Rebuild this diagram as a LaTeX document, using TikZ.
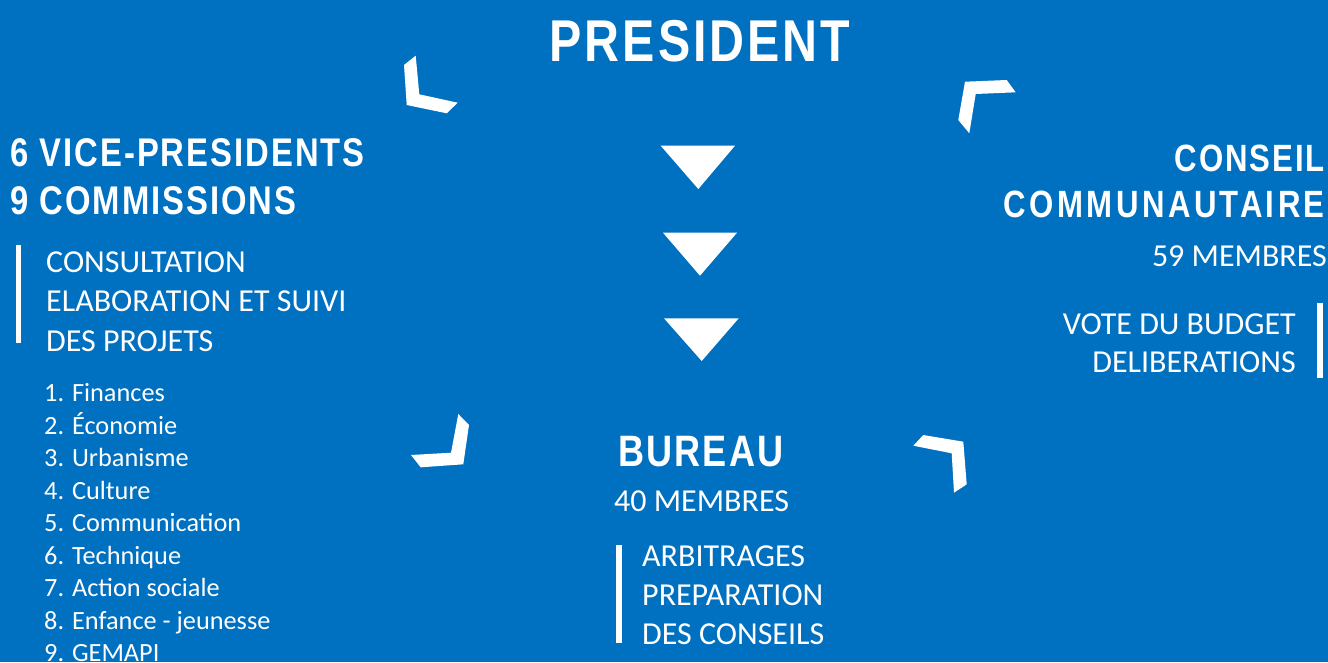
\documentclass[tikz,border=0pt]{standalone}
\usepackage{fontspec}
\setmainfont{Carlito}
\newfontfamily\headfont[FakeStretch=0.82,LetterSpace=5]{Liberation Sans}
\newfontfamily\headfontwide[FakeStretch=0.82,LetterSpace=9]{Liberation Sans}
\definecolor{bgblue}{RGB}{0,112,192}
\tikzset{
  txt/.style={inner sep=0pt, text=white},
  head/.style={txt, font=\headfont\bfseries\fontsize{#1}{#1}\selectfont},
  headwide/.style={txt, font=\headfontwide\bfseries\fontsize{#1}{#1}\selectfont},
  body/.style={txt, font=\fontsize{32}{39}\selectfont},
  item/.style={txt, font=\fontsize{26.3}{32}\selectfont, anchor=base west},
  whiteshape/.style={fill=white},
}
\begin{document}
\begin{tikzpicture}[x=1pt,y=-1pt]
\fill[bgblue] (0,0) rectangle (1328,662);
\useasboundingbox (0,0) rectangle (1328,662);

% headings
\node[head=59, anchor=base] (pres) at (700,61.7) {PRESIDENT};
\node[head=40, anchor=base west] (vp1) at (10,166) {6 VICE-PRESIDENTS};
\node[head=40, anchor=base west] (vp2) at (10,214) {9 COMMISSIONS};
\node[head=38, anchor=base east] (cc1) at (1325,171.5) {CONSEIL};
\node[headwide=38, anchor=base east] (cc2) at (1325,217) {COMMUNAUTAIRE};
\node[head=44, anchor=base west] (bur) at (618,466) {BUREAU};

% left block
\fill[whiteshape] (16,245) rectangle (21,343);
\node[body, anchor=base west] (lb1) at (46,272) {CONSULTATION};
\node[body, anchor=base west] (lb2) at (46,311.5) {ELABORATION ET SUIVI};
\node[body, anchor=base west] (lb3) at (46,351) {DES PROJETS};

% list
\node[item] (i1) at (44,401.7) {1. Finances};
\node[item] (i2) at (44,434.3) {2. Économie};
\node[item] (i3) at (44,466.7) {3. Urbanisme};
\node[item] (i4) at (44,499) {4. Culture};
\node[item] (i5) at (44,531.7) {5. Communication};
\node[item] (i6) at (44,564) {6. Technique};
\node[item] (i7) at (44,596.7) {7. Action sociale};
\node[item] (i8) at (44,629) {8. Enfance - jeunesse};
\node[item] (i9) at (44,661.5) {9. GEMAPI};

% right block
\node[body, anchor=base east] (rb0) at (1327,266.7) {59 MEMBRES};
\node[body, anchor=base east] (rb1) at (1296,334) {VOTE DU BUDGET};
\node[body, anchor=base east] (rb2) at (1296,372.7) {DELIBERATIONS};
\fill[whiteshape] (1317,303) rectangle (1323,378);

% bureau block
\node[body, anchor=base west] (bb0) at (614,511.7) {40 MEMBRES};
\fill[whiteshape] (616,545) rectangle (622,643);
\node[body, anchor=base west] (bb1) at (642,566.7) {ARBITRAGES};
\node[body, anchor=base west] (bb2) at (642,605.7) {PREPARATION};
\node[body, anchor=base west] (bb3) at (642,644.3) {DES CONSEILS};

% triangles
\fill[whiteshape] (660.7,145.7) -- (735,145.7) -- (698.3,189) -- cycle;
\fill[whiteshape] (663,232.7) -- (737,232.7) -- (700,275.7) -- cycle;
\fill[whiteshape] (664,318.3) -- (738.7,318.3) -- (701.7,361) -- cycle;

% corner brackets
\fill[whiteshape] (404,65) -- (415.7,55.7) -- (419.3,94.3) -- (457.7,102.7) -- (446.7,113.3) -- (406.7,105) -- cycle;
\fill[whiteshape] (965,81.7) -- (1006.7,80) -- (1015.7,92.3) -- (975.7,94) -- (969.3,133.3) -- (958.3,120) -- cycle;
\fill[whiteshape] (458.3,414) -- (469,425) -- (463.3,464.3) -- (420.7,467.3) -- (411,455) -- (451,452.7) -- cycle;
\fill[whiteshape] (923.3,435) -- (963.3,441.7) -- (966.7,484.3) -- (954,492.7) -- (951.7,453.3) -- (913.3,445.7) -- cycle;
\end{tikzpicture}
\end{document}
